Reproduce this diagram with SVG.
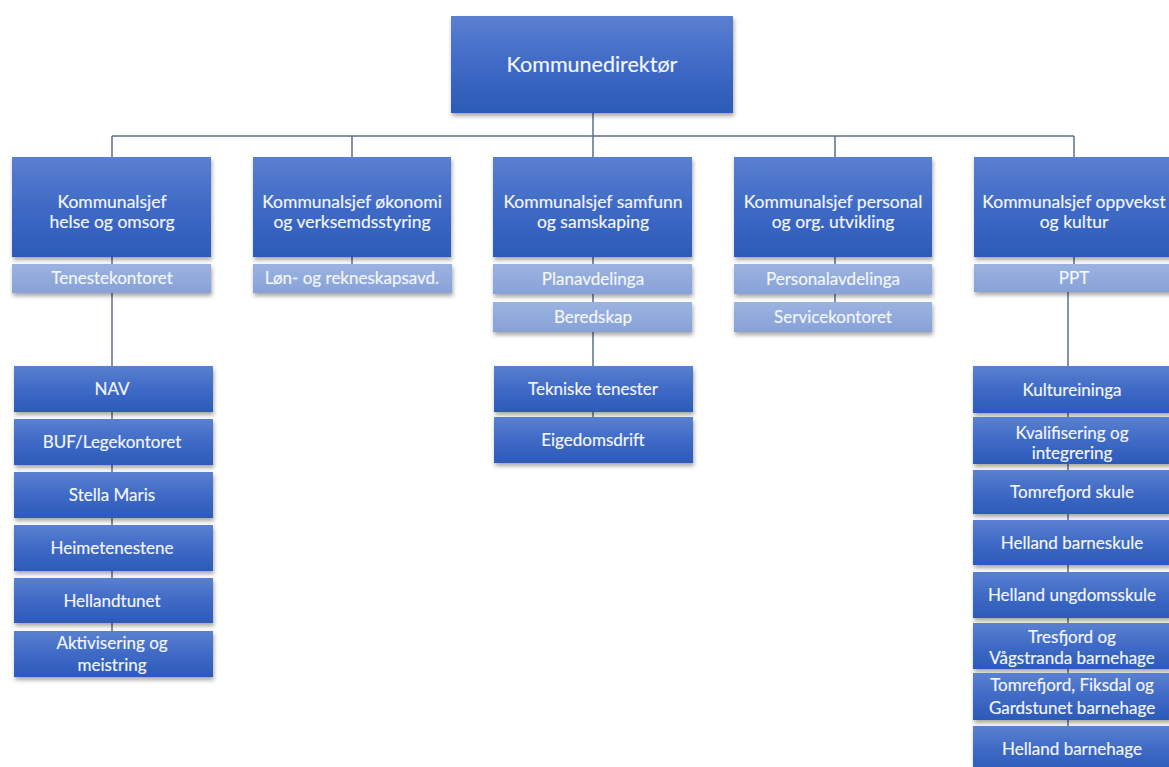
<svg xmlns="http://www.w3.org/2000/svg" width="1169" height="767" viewBox="0 0 1169 767">
<defs>
<linearGradient id="gd" x1="0" y1="0" x2="0" y2="1">
<stop offset="0" stop-color="#5a80d0"/>
<stop offset="0.5" stop-color="#3f6ac6"/>
<stop offset="1" stop-color="#2c5ab8"/>
</linearGradient>
<linearGradient id="gl" x1="0" y1="0" x2="0" y2="1">
<stop offset="0" stop-color="#9cb3e0"/>
<stop offset="1" stop-color="#87a2d8"/>
</linearGradient>
<filter id="sh" x="-10%" y="-10%" width="130%" height="140%">
<feDropShadow dx="1" dy="3" stdDeviation="2" flood-color="#000" flood-opacity="0.35"/>
</filter>
</defs>
<style>
.d{fill:url(#gd);filter:url(#sh)}
.l{fill:url(#gl);filter:url(#sh)}
text{font-family:Lato,"Liberation Sans",sans-serif;fill:#f4f7fc;stroke:#f4f7fc;stroke-width:0.15;text-anchor:middle;font-size:17.5px}
.t{font-size:21.5px}
.s{font-size:17px}
.c{fill:none;stroke:#5d6f8c;stroke-width:1.5}
</style>
<rect width="1169" height="767" fill="#fff"/>
<g id="connectors">
<path class="c" d="M593 113V136M112 136H1074M112 136V157M352 136V157M593 136V157M835 136V157M1074 136V157"/>
<path class="c" d="M112 257V631M352 257V264M593 257V417M835 257V302M1074 257V292M1068 292V726"/>
</g>
<g id="kommunedirektor"><rect class="d" x="451" y="16" width="282" height="97"/><text class="t" x="592" y="72">Kommunedirektør</text></g>

<g id="helse"><rect class="d" x="12" y="157" width="199" height="100"/><text x="112" y="208">Kommunalsjef</text><text x="112" y="228">helse og omsorg</text></g>
<g id="okonomi"><rect class="d" x="253" y="157" width="198" height="100"/><text x="352" y="208">Kommunalsjef økonomi</text><text x="352" y="228">og verksemdsstyring</text></g>
<g id="samfunn"><rect class="d" x="493" y="157" width="199" height="100"/><text x="593" y="208">Kommunalsjef samfunn</text><text x="593" y="228">og samskaping</text></g>
<g id="personal"><rect class="d" x="734" y="157" width="198" height="100"/><text x="833" y="208">Kommunalsjef personal</text><text x="833" y="228">og org. utvikling</text></g>
<g id="oppvekst"><rect class="d" x="974" y="157" width="199" height="100"/><text x="1074" y="208">Kommunalsjef oppvekst</text><text x="1074" y="228">og kultur</text></g>

<g id="tenestekontoret"><rect class="l" x="12" y="264" width="199" height="29"/><text class="s" x="112" y="284">Tenestekontoret</text></g>
<g id="lon"><rect class="l" x="253" y="264" width="199" height="29"/><text class="s" x="352" y="284">Løn- og rekneskapsavd.</text></g>
<g id="planavdelinga"><rect class="l" x="493" y="264" width="199" height="30"/><text class="s" x="593" y="285">Planavdelinga</text></g>
<g id="beredskap"><rect class="l" x="493" y="302" width="199" height="30"/><text class="s" x="593" y="323">Beredskap</text></g>
<g id="personalavdelinga"><rect class="l" x="734" y="264" width="198" height="30"/><text class="s" x="833" y="285">Personalavdelinga</text></g>
<g id="servicekontoret"><rect class="l" x="734" y="302" width="198" height="30"/><text class="s" x="833" y="323">Servicekontoret</text></g>
<g id="ppt"><rect class="l" x="974" y="264" width="199" height="28"/><text class="s" x="1074" y="284">PPT</text></g>

<g id="nav"><rect class="d" x="14" y="366" width="199" height="46"/><text class="s" x="112" y="395">NAV</text></g>
<g id="buf"><rect class="d" x="14" y="419" width="199" height="46"/><text class="s" x="112" y="448">BUF/Legekontoret</text></g>
<g id="stella"><rect class="d" x="14" y="472" width="199" height="46"/><text class="s" x="112" y="501">Stella Maris</text></g>
<g id="heime"><rect class="d" x="14" y="525" width="199" height="46"/><text class="s" x="112" y="554">Heimetenestene</text></g>
<g id="hellandtunet"><rect class="d" x="14" y="578" width="199" height="45"/><text class="s" x="112" y="607">Hellandtunet</text></g>
<g id="aktivisering"><rect class="d" x="14" y="631" width="199" height="46"/><text class="s" x="112" y="649">Aktivisering og</text><text class="s" x="112" y="671">meistring</text></g>

<g id="tekniske"><rect class="d" x="494" y="366" width="199" height="46"/><text class="s" x="593" y="395">Tekniske tenester</text></g>
<g id="eigedom"><rect class="d" x="494" y="417" width="199" height="46"/><text class="s" x="593" y="446">Eigedomsdrift</text></g>

<g id="kultur"><rect class="d" x="973" y="366" width="198" height="47"/><text class="s" x="1072" y="396">Kultureininga</text></g>
<g id="kvalifisering"><rect class="d" x="973" y="417" width="198" height="47"/><text class="s" x="1072" y="439">Kvalifisering og</text><text class="s" x="1072" y="459">integrering</text></g>
<g id="tomrefjordskule"><rect class="d" x="973" y="470" width="198" height="44"/><text class="s" x="1072" y="498">Tomrefjord skule</text></g>
<g id="hellandbarne"><rect class="d" x="973" y="520" width="198" height="45"/><text class="s" x="1072" y="549">Helland barneskule</text></g>
<g id="hellandungdom"><rect class="d" x="973" y="572" width="198" height="46"/><text class="s" x="1072" y="601">Helland ungdomsskule</text></g>
<g id="tresfjord"><rect class="d" x="973" y="623" width="198" height="46"/><text class="s" x="1072" y="643">Tresfjord og</text><text class="s" x="1072" y="664">Vågstranda barnehage</text></g>
<g id="tomrefjordbhg"><rect class="d" x="973" y="673" width="198" height="47"/><text class="s" x="1072" y="691">Tomrefjord, Fiksdal og</text><text class="s" x="1072" y="714">Gardstunet barnehage</text></g>
<g id="hellandbhg"><rect class="d" x="973" y="726" width="198" height="46"/><text class="s" x="1072" y="755">Helland barnehage</text></g>
</svg>
